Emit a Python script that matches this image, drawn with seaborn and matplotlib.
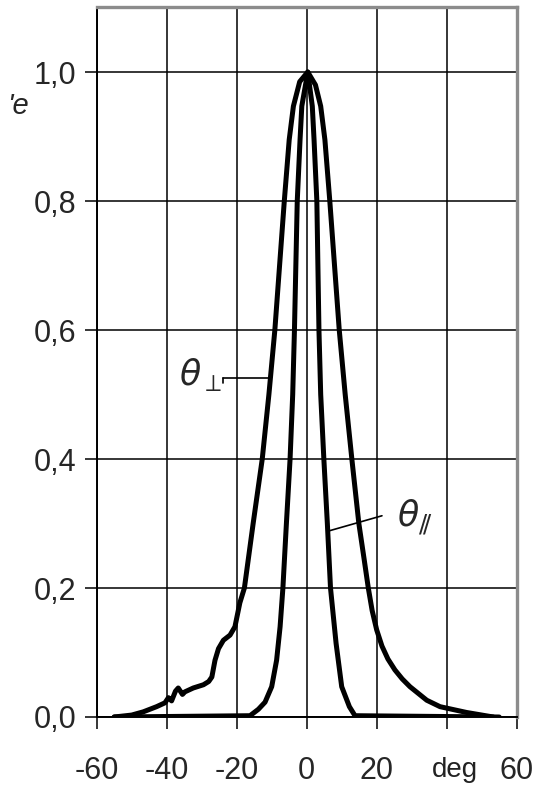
import matplotlib
matplotlib.use("Agg")
import matplotlib.pyplot as plt
import seaborn as sns
import pandas as pd

# --- data ---
perp_x = [-55, -50, -46.7, -42.9, -40.5, -39.5, -38.6, -37.5, -36.7, -35.5, -34.8, -32.4,
          -29.5, -28.0, -27.1, -26.2, -25.2, -23.8, -21.9, -20.5, -19.1, -17.8, -15.3,
          -12.7, -10.8, -9.1, -6.4, -5.0, -3.8, -2.0, 0.3, 2.5, 4.0, 5.2, 6.6, 9.3, 11.0,
          12.9, 14.9, 16.4, 17.6, 18.7, 20.0, 21.5, 23.2, 25.2, 27.3, 29.5, 34.3, 38.1,
          45.7, 53.3]
perp_y = [0.0, 0.003, 0.008, 0.016, 0.022, 0.030, 0.025, 0.040, 0.045, 0.035, 0.039, 0.045,
          0.050, 0.055, 0.062, 0.088, 0.106, 0.119, 0.127, 0.140, 0.177, 0.200, 0.300,
          0.400, 0.500, 0.600, 0.800, 0.895, 0.947, 0.985, 1.0, 0.98, 0.947, 0.895, 0.800,
          0.600, 0.500, 0.400, 0.300, 0.245, 0.200, 0.165, 0.135, 0.110, 0.090, 0.073,
          0.059, 0.047, 0.026, 0.016, 0.007, 0.0]

par_x = [-55, -16.2, -13.8, -11.9, -10.0, -8.6, -7.6, -6.8, -5.8, -4.75, -4.0, -3.5, -2.7,
         -1.9, -1.4, 0.3, 1.6, 2.1, 2.9, 3.5, 4.0, 4.9, 5.9, 6.8, 8.4, 10.0, 12.2, 13.8, 55]
par_y = [0.0, 0.002, 0.012, 0.023, 0.047, 0.088, 0.140, 0.200, 0.300, 0.400, 0.500, 0.600,
         0.800, 0.895, 0.947, 1.0, 0.947, 0.895, 0.800, 0.600, 0.500, 0.400, 0.300, 0.200,
         0.114, 0.047, 0.016, 0.002, 0.0]

x_ticks = [-60, -40, -20, 0, 20, 40, 60]
x_tick_labels = ["-60", "-40", "-20", "0", "20", "", "60"]
y_ticks = [0.0, 0.2, 0.4, 0.6, 0.8, 1.0]
y_tick_labels = ["0,0", "0,2", "0,4", "0,6", "0,8", "1,0"]

sns.set_style("white")
plt.rcParams["font.family"] = ["Liberation Sans", "DejaVu Sans"]
plt.rcParams["mathtext.fontset"] = "dejavusans"

fig = plt.figure(figsize=(5.39, 7.85), dpi=100)
ax = fig.add_axes([96.7 / 539, 1 - 717 / 785, 420 / 539, 710 / 785])

ax.set_xlim(-60, 60)
ax.set_ylim(0, 1.1008)

# grid
ax.set_xticks(x_ticks)
ax.set_yticks(y_ticks)
ax.grid(True, color="black", lw=1.1)
ax.set_axisbelow(True)

df_perp = pd.DataFrame({"x": perp_x, "y": perp_y})
df_par = pd.DataFrame({"x": par_x, "y": par_y})
sns.lineplot(data=df_perp, x="x", y="y", ax=ax, color="black", lw=3.6,
             estimator=None, sort=False, zorder=3)
sns.lineplot(data=df_par, x="x", y="y", ax=ax, color="black", lw=3.6,
             estimator=None, sort=False, zorder=3)

ax.set_xticklabels(x_tick_labels, fontsize=22)
ax.set_yticklabels(y_tick_labels, fontsize=22)
ax.tick_params(axis="both", direction="out", length=8.6, width=1.1, color="black",
               bottom=True, left=True, top=False, right=False)
ax.tick_params(axis="y", pad=6)
ax.tick_params(axis="x", pad=19.5)
ax.set_xlabel("")
ax.set_ylabel("")

for s in ["left", "bottom"]:
    ax.spines[s].set_color("black")
    ax.spines[s].set_linewidth(1.4)
for s in ["top", "right"]:
    ax.spines[s].set_color("#8c8c8c")
    ax.spines[s].set_linewidth(2.4)

# "deg" unit in place of the 40 label
ax.text(42.4, -0.0845, "deg", transform=ax.get_xaxis_transform(), fontsize=20,
        color="#222222", ha="center", va="baseline")

# y label fragment
fig.text(18 / 539, 1 - 106 / 785, "'e", fontsize=21, style="italic",
         ha="center", va="center")

# annotations
ax.plot([-23.9, -10.4], [0.526, 0.526], color="black", lw=1.2, zorder=4)
ax.plot([-23.9, -23.9], [0.526, 0.518], color="black", lw=1.2, zorder=4)
ax.text(-36.4, 0.515, r"$\theta_{\perp}$", fontsize=25, ha="left", va="baseline")

ax.plot([6.0, 21.5], [0.288, 0.312], color="black", lw=1.2, zorder=4)
ax.text(25.8, 0.295, r"$\theta_{/\!/}$", fontsize=25, ha="left", va="baseline")

fig.savefig("out.png", dpi=100)
